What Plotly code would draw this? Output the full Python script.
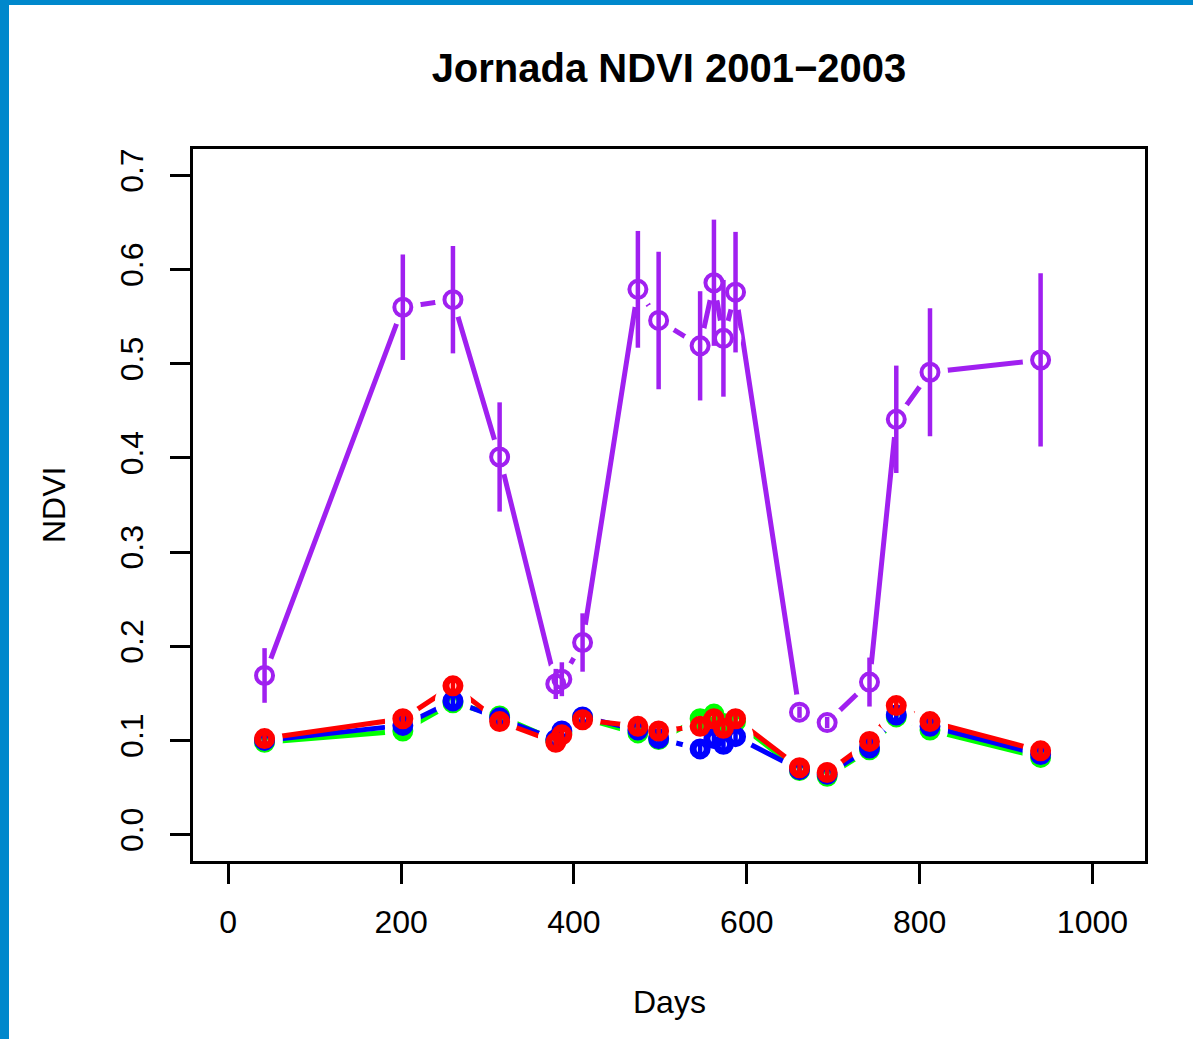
import plotly.graph_objects as go

# ---- data ----
days = [42, 202, 260, 314, 379, 386, 410, 474, 498, 546, 562, 573, 587, 661, 693, 742, 773, 812, 940]

ndvi_purple = [0.169, 0.560, 0.568, 0.401, 0.160, 0.165, 0.204, 0.579, 0.546, 0.519,
               0.586, 0.527, 0.576, 0.130, 0.119, 0.162, 0.441, 0.491, 0.504]
se_purple = [0.029, 0.056, 0.057, 0.058, 0.016, 0.018, 0.031, 0.062, 0.073, 0.058,
             0.067, 0.062, 0.064, 0.006, 0.006, 0.026, 0.057, 0.068, 0.092]

ndvi_green = [0.098, 0.110, 0.140, 0.126, 0.100, 0.108, 0.124, 0.108, 0.101, 0.123,
              0.128, 0.118, 0.120, 0.068, 0.062, 0.090, 0.125, 0.111, 0.082]
ndvi_blue = [0.100, 0.116, 0.142, 0.124, 0.101, 0.110, 0.125, 0.111, 0.102, 0.091,
             0.102, 0.096, 0.104, 0.069, 0.064, 0.092, 0.127, 0.115, 0.085]
ndvi_red = [0.102, 0.123, 0.158, 0.120, 0.098, 0.106, 0.122, 0.115, 0.110, 0.115,
            0.123, 0.113, 0.123, 0.071, 0.066, 0.099, 0.137, 0.120, 0.089]
se_small = [0.005] * len(days)

x_ticks = [0, 200, 400, 600, 800, 1000]
y_ticks = [0.0, 0.1, 0.2, 0.3, 0.4, 0.5, 0.6, 0.7]
y_ticktext = ["0.0", "0.1", "0.2", "0.3", "0.4", "0.5", "0.6", "0.7"]

PURPLE = "#A020F0"
GREEN = "#00FF00"
BLUE = "#0000FF"
RED = "#FF0000"
FONT = "Liberation Sans, Arial, Helvetica, sans-serif"

W, H = 1193, 1039
ML, MR, MT, MB = 193, 48, 149, 178
PW, PH = W - ML - MR, H - MT - MB

series = [
    (ndvi_purple, se_purple, PURPLE, 17, 4),
    (ndvi_green, se_small, GREEN, 14, 7),
    (ndvi_blue, se_small, BLUE, 14, 7),
    (ndvi_red, se_small, RED, 14, 7),
]

fig = go.Figure()

# lines
for y, se, col, ms, mw in series:
    fig.add_trace(go.Scatter(x=days, y=y, mode="lines",
                             line=dict(color=col, width=5),
                             hoverinfo="skip", showlegend=False))
# white gaps around points (type = "b" look)
for y, se, col, ms, mw in series:
    fig.add_trace(go.Scatter(x=days, y=y, mode="markers",
                             marker=dict(color="white", size=36, line=dict(width=0)),
                             hoverinfo="skip", showlegend=False))
# points with error bars
for y, se, col, ms, mw in series:
    fig.add_trace(go.Scatter(x=days, y=y, mode="markers",
                             marker=dict(symbol="circle-open", size=ms, color=col,
                                         line=dict(color=col, width=mw)),
                             error_y=dict(type="data", array=se, symmetric=True,
                                          color=col, thickness=4.5, width=0),
                             showlegend=False))

axis_common = dict(showgrid=False, zeroline=False, showline=True, linecolor="black",
                   linewidth=3, mirror=True, ticks="outside", ticklen=20, tickwidth=2.5,
                   tickcolor="black", tickfont=dict(family=FONT, size=32, color="black"))

fig.update_xaxes(range=[-40.8, 1060.8], tickvals=x_ticks, ticklabelstandoff=11,
                 **axis_common)
fig.update_yaxes(range=[-0.028, 0.728], tickvals=y_ticks, ticktext=y_ticktext,
                 tickangle=-90, ticklabelstandoff=14, **axis_common)

fig.update_layout(
    width=W, height=H,
    margin=dict(l=ML, r=MR, t=MT, b=MB, pad=0),
    paper_bgcolor="white", plot_bgcolor="white",
    title=dict(text="<b>Jornada NDVI 2001\u22122003</b>",
               font=dict(family=FONT, size=40, color="black"),
               x=0.5, xref="paper", xanchor="center",
               y=1 - 68 / H, yref="container", yanchor="middle"),
    annotations=[
        dict(text="Days", xref="paper", yref="paper", x=0.5, y=0,
             xanchor="center", yanchor="middle", yshift=-141, showarrow=False,
             font=dict(family=FONT, size=32, color="black")),
        dict(text="NDVI", xref="paper", yref="paper", x=0, y=0.5,
             xanchor="center", yanchor="middle", xshift=-139, textangle=-90,
             showarrow=False, font=dict(family=FONT, size=32, color="black")),
    ],
    shapes=[
        dict(type="rect", xref="paper", yref="paper", layer="above",
             x0=-ML / PW, x1=(-ML + 9) / PW, y0=-MB / PH, y1=1 + MT / PH,
             fillcolor="#0088CC", line=dict(width=0)),
        dict(type="rect", xref="paper", yref="paper", layer="above",
             x0=-ML / PW, x1=1 + MR / PW, y0=1 + (MT - 5) / PH, y1=1 + MT / PH,
             fillcolor="#0088CC", line=dict(width=0)),
    ],
)

fig.write_html("out.html")
